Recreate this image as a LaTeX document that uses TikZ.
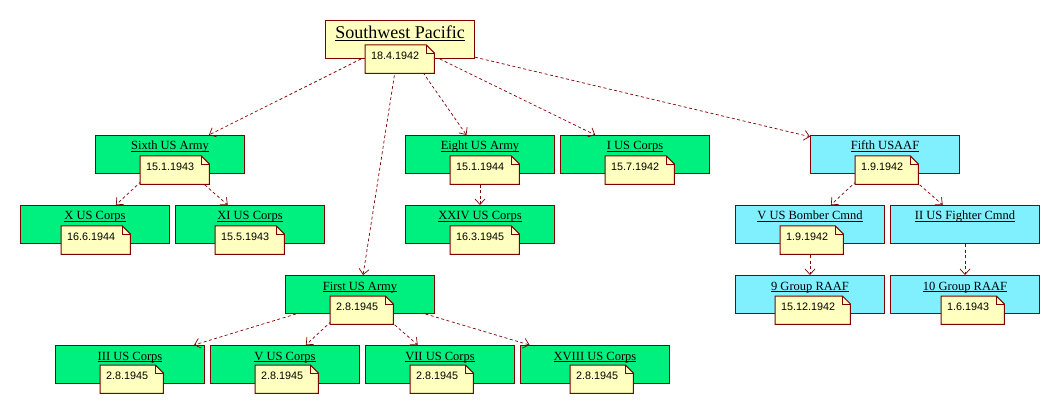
\documentclass[tikz,border=0pt]{standalone}
\usepackage{fontspec}
\setmainfont{Liberation Serif}
\newfontfamily\datefont{Liberation Sans}
\usetikzlibrary{arrows.meta}
\definecolor{grn}{RGB}{0,240,128}
\definecolor{cyn}{RGB}{128,240,255}
\definecolor{ylw}{RGB}{255,255,192}
\definecolor{brd}{RGB}{128,0,0}
\newcommand\ulin[1]{\setbox0\hbox{#1}\rlap{\rule[-2pt]{\wd0}{0.6pt}}\box0}
\tikzset{
 box/.style={draw=brd, line width=1pt, minimum width=149pt, minimum height=38pt, inner sep=0pt, anchor=north west},
 gbox/.style={box, fill=grn},
 cbox/.style={box, fill=cyn},
 ybox/.style={box, fill=ylw},
 ttl/.style={font=\fontsize{12.5}{14}\selectfont, anchor=base, inner sep=0pt},
 bigttl/.style={font=\fontsize{18}{20}\selectfont, anchor=base, inner sep=0pt},
 conn/.style={draw=brd, line width=0.7pt, dash pattern=on 3pt off 2.5pt, -{Straight Barb[length=5.5pt,width=10pt]}},
 notetext/.style={font=\datefont\fontsize{10.8}{12}\selectfont, anchor=north west, inner xsep=0pt, inner ysep=7pt, text height=7.5pt, text depth=6.5pt},
 notebox/.style={draw=brd, fill=ylw, line width=1pt},
 notefold/.style={draw=brd, line width=0.8pt},
}
\newcommand\mknote[3]{%
 \node[notetext, text opacity=0] (#1) at (#2) {\hspace*{6pt}#3\hspace*{15pt}};
 \filldraw[notebox] (#1.south west) -- (#1.north west) -- ([xshift=-8pt]#1.north east) -- ([yshift=-8pt]#1.north east) -- (#1.south east) -- cycle;
 \draw[notefold] ([xshift=-8pt]#1.north east) |- ([yshift=-8pt]#1.north east);
 \node[notetext] (#1-txt) at (#2) {\hspace*{6pt}#3\hspace*{15pt}};
}
\begin{document}
\begin{tikzpicture}[x=1pt,y=-1pt]
\useasboundingbox[fill=white] (0,0) rectangle (1060,414);
% boxes
\node[ybox] (swp) at (325,20) {};
\node[gbox] (sixth) at (95,135) {};
\node[gbox] (eight) at (405,135) {};
\node[gbox] (ius) at (560,135) {};
\node[cbox] (fifth) at (810,135) {};
\node[gbox] (xus) at (20,205) {};
\node[gbox] (xius) at (175,205) {};
\node[gbox] (xxiv) at (405,205) {};
\node[cbox] (vbomb) at (735,205) {};
\node[cbox] (iifight) at (890,205) {};
\node[gbox] (first) at (285,275) {};
\node[cbox] (nine) at (735,275) {};
\node[cbox] (ten) at (890,275) {};
\node[gbox] (iii) at (55,345) {};
\node[gbox] (vus) at (210,345) {};
\node[gbox] (vii) at (365,345) {};
\node[gbox] (xviii) at (520,345) {};
% titles
\node[bigttl] (swp-t) at ([yshift=-19pt]swp.north) {\ulin{Southwest Pacific}};
\node[ttl] (sixth-t) at ([yshift=-15pt]sixth.north) {\ulin{Sixth US Army}};
\node[ttl] (eight-t) at ([yshift=-15pt]eight.north) {\ulin{Eight US Army}};
\node[ttl] (ius-t) at ([yshift=-15pt]ius.north) {\ulin{I US Corps}};
\node[ttl] (fifth-t) at ([yshift=-15pt]fifth.north) {\ulin{Fifth USAAF}};
\node[ttl] (xus-t) at ([yshift=-15pt]xus.north) {\ulin{X US Corps}};
\node[ttl] (xius-t) at ([yshift=-15pt]xius.north) {\ulin{XI US Corps}};
\node[ttl] (xxiv-t) at ([yshift=-15pt]xxiv.north) {\ulin{XXIV US Corps}};
\node[ttl] (vbomb-t) at ([yshift=-15pt]vbomb.north) {\ulin{V US Bomber Cmnd}};
\node[ttl] (iifight-t) at ([yshift=-15pt]iifight.north) {\ulin{II US Fighter Cmnd}};
\node[ttl] (first-t) at ([yshift=-15pt]first.north) {\ulin{First US Army}};
\node[ttl] (nine-t) at ([yshift=-15pt]nine.north) {\ulin{9 Group RAAF}};
\node[ttl] (ten-t) at ([yshift=-15pt]ten.north) {\ulin{10 Group RAAF}};
\node[ttl] (iii-t) at ([yshift=-15pt]iii.north) {\ulin{III US Corps}};
\node[ttl] (vus-t) at ([yshift=-15pt]vus.north) {\ulin{V US Corps}};
\node[ttl] (vii-t) at ([yshift=-15pt]vii.north) {\ulin{VII US Corps}};
\node[ttl] (xviii-t) at ([yshift=-15pt]xviii.north) {\ulin{XVIII US Corps}};
% connectors
\draw[conn] (swp) -- (sixth);
\draw[conn] (swp) -- (first);
\draw[conn] (swp) -- (eight);
\draw[conn] (swp) -- (ius);
\draw[conn] (swp) -- (fifth);
\draw[conn] (sixth) -- (xus);
\draw[conn] (sixth) -- (xius);
\draw[conn] (eight) -- (xxiv);
\draw[conn] (fifth) -- (vbomb);
\draw[conn] (fifth) -- (iifight);
\draw[conn] (vbomb) -- (nine);
\draw[conn] (iifight) -- (ten);
\draw[conn] (first) -- (iii);
\draw[conn] (first) -- (vus);
\draw[conn] (first) -- (vii);
\draw[conn] (first) -- (xviii);
% notes
\mknote{swp-n}{365,45}{18.4.1942}
\mknote{sixth-n}{140,156}{15.1.1943}
\mknote{eight-n}{450,156}{15.1.1944}
\mknote{ius-n}{605,156}{15.7.1942}
\mknote{fifth-n}{855,156}{1.9.1942}
\mknote{xus-n}{61,226}{16.6.1944}
\mknote{xius-n}{215,226}{15.5.1943}
\mknote{xxiv-n}{450,226}{16.3.1945}
\mknote{vbomb-n}{780,226}{1.9.1942}
\mknote{first-n}{330,296}{2.8.1945}
\mknote{nine-n}{775,296}{15.12.1942}
\mknote{ten-n}{941,296}{1.6.1943}
\mknote{iii-n}{100,365}{2.8.1945}
\mknote{vus-n}{255,365}{2.8.1945}
\mknote{vii-n}{410,365}{2.8.1945}
\mknote{xviii-n}{570,365}{2.8.1945}
\end{tikzpicture}
\end{document}
